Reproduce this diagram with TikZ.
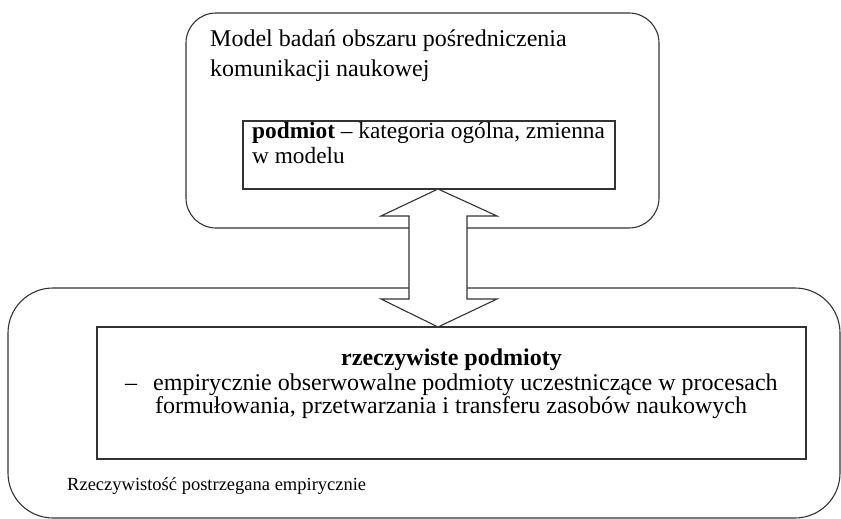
\documentclass[tikz,border=0pt]{standalone}
\usepackage{fontspec}
\setmainfont{Liberation Serif}
\usetikzlibrary{calc}
\begin{document}
\begin{tikzpicture}[x=1pt,y=-1pt,
  frame/.style={draw=black!80,line width=1.1pt,inner sep=0pt,outer sep=0pt,anchor=north west},
  txt/.style={inner sep=0pt,anchor=base west,font=\fontsize{24}{28}\selectfont},
  boxtxt/.style={inner sep=0pt,anchor=base west,font=\fontsize{23.3}{28}\selectfont},
  small/.style={inner sep=0pt,anchor=base west,font=\fontsize{18.5}{22}\selectfont}]
\useasboundingbox (0,0) rectangle (841,519);

% outer regions
\node[frame,rounded corners=30pt,minimum width=473pt,minimum height=215pt] (model) at (186,13) {};
\node[frame,rounded corners=45pt,minimum width=832pt,minimum height=230pt] (reality) at (8,288) {};

% inner boxes
\node[frame,minimum width=372pt,minimum height=68pt] (general) at (243,121) {};
\node[frame,minimum width=709pt,minimum height=132pt] (actual) at (97,327) {};

% labels of the model region
\node[txt] (mt1) at (210,47) {Model badań obszaru pośredniczenia};
\node[txt] (mt2) at (210,77) {komunikacji naukowej};
\node[boxtxt] (g1) at (252,138) {\textbf{podmiot} – kategoria ogólna, zmienna};
\node[boxtxt] (g2) at (252,163) {w modelu};

% labels of the empirical region
\node[txt,anchor=base] (a0) at (actual.north |- 0,365) {\textbf{rzeczywiste podmioty}};
\node[txt] (a1) at (125,390) {–};
\node[txt] (a2) at (153,390) {empirycznie obserwowalne podmioty uczestniczące w procesach};
\node[txt] (a3) at (155,413) {formułowania, przetwarzania i transferu zasobów naukowych};
\node[small] (rl) at (67,490) {Rzeczywistość postrzegana empirycznie};

% double block arrow between the two inner boxes
\coordinate (ax) at (438,0);
\coordinate (top) at (ax |- general.south);
\coordinate (bot) at (ax |- actual.north);
\draw[draw=black!80,line width=1.1pt,fill=white,line join=miter]
  (top) -- ++(59,27) -- ++(-30,0) -- ($(bot)+(29,-28)$) -- ++(30,0) -- (bot)
  -- ++(-57,-28) -- ++(28,0) -- ($(top)+(-29,27)$) -- ++(-28,0) -- cycle;
\end{tikzpicture}
\end{document}
